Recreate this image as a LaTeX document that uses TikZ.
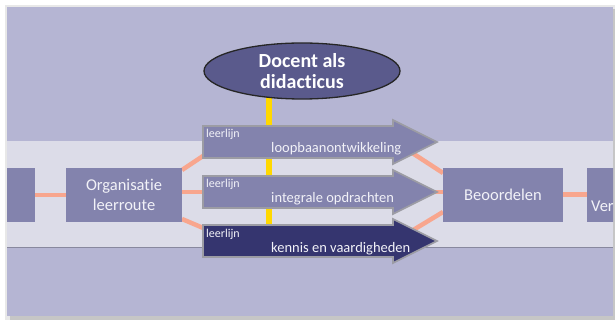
\documentclass[tikz,border=0pt]{standalone}
\usepackage{fontspec}
\setmainfont[Ligatures={NoCommon}]{Carlito}
\usetikzlibrary{shapes.geometric}
\definecolor{panelc}{HTML}{B5B5D3}
\definecolor{bandc}{HTML}{DCDCE8}
\definecolor{boxc}{HTML}{8383AD}
\definecolor{ellc}{HTML}{5A5A8C}
\definecolor{darkc}{HTML}{35356F}
\definecolor{salmonc}{HTML}{F8A68E}
\definecolor{yelc}{HTML}{FFD800}
\definecolor{randc}{HTML}{9C9CA4}
\definecolor{txtc}{HTML}{F2F2F8}
\tikzset{
  boxnode/.style={rectangle, fill=boxc, minimum height=54pt, inner sep=0pt,
    text=txtc, align=center, font=\fontsize{16.5}{20}\selectfont},
  conn/.style={draw=salmonc, line width=4.5pt},
  yel/.style={draw=yelc, line width=6pt},
  pijlrand/.style={draw=randc, line width=1.6pt, line join=miter},
  leer/.style={inner sep=0pt, anchor=base west, text=txtc, font=\fontsize{12}{14}\selectfont},
  pijltekst/.style={inner sep=0pt, anchor=base west, text=txtc, font=\fontsize{14.5}{17}\selectfont},
}
\newcommand\pijl[2]{%
  \draw[pijlrand, fill=#2] (203,{#1-16}) -- (393,{#1-16}) -- (393,{#1-22}) -- (437,#1)
    -- (393,{#1+22}) -- (393,{#1+16}) -- (203,{#1+16}) -- cycle;}
\begin{document}
\begin{tikzpicture}[x=1pt,y=-1pt]
\useasboundingbox (0,0) rectangle (615,320);
% shadow and panel
\fill[gray!18] (5,5) rectangle (615,319.5);
\fill[gray!45] (10,9) rectangle (615,319.5);
\fill[panelc] (7,7) rectangle (613,316);
\begin{scope}
\clip (7,7) rectangle (613,316);
\fill[bandc] (7,141) rectangle (613,247);
\draw[draw=panelc!75!black, line width=1.2pt] (7,247.5) -- (613,247.5);

% nodes
\node[boxnode, minimum width=28pt] (L) at (21,195) {};
\node[boxnode, minimum width=116pt] (O) at (124,195) {Organisatie\\leerroute};
\node[boxnode, minimum width=120pt] (B) at (503,195) {Beoordelen};
\node[boxnode, minimum width=60pt] (V) at (617,195) {};
\node[inner sep=0pt, anchor=base west, text=txtc, font=\fontsize{16.5}{20}\selectfont] (Vt) at (591,212) {Ver};

% connector anchor points
\coordinate (o1) at (182,170);
\coordinate (o2) at (182,192);
\coordinate (o3) at (182,219);
\coordinate (a1in) at (215,148);
\coordinate (a2in) at (215,192);
\coordinate (a3in) at (215,233);
\coordinate (a1out) at (400,145);
\coordinate (a2out) at (430,192);
\coordinate (a3out) at (400,238);
\coordinate (b1) at (443,173);
\coordinate (b2) at (443,192);
\coordinate (b3) at (443,212);

\draw[conn] (L.east) -- (O.west);
\draw[conn] (o1) -- (a1in);
\draw[conn] (o2) -- (a2in);
\draw[conn] (o3) -- (a3in);
\draw[conn] (a1out) -- (b1);
\draw[conn] (a2out) -- (b2);
\draw[conn] (a3out) -- (b3);
\draw[conn, line width=5pt] (B.east) -- (V.west);

% redraw boxes over connector ends
\node[boxnode, minimum width=116pt] at (O) {Organisatie\\leerroute};
\node[boxnode, minimum width=120pt] at (B) {Beoordelen};

% yellow line
\coordinate (y1) at (269,85);
\coordinate (y2) at (269,232);
\draw[yel] (y1) -- (y2);

% arrows
\pijl{142}{boxc}
\pijl{192}{boxc}
\pijl{241}{darkc}
\node[leer] (l1) at (206,138) {leerlijn};
\node[pijltekst] (t1) at (271,153) {loopbaanontwikkeling};
\node[leer] (l2) at (206,188) {leerlijn};
\node[pijltekst] (t2) at (271,203) {integrale opdrachten};
\node[leer] (l3) at (206,237) {leerlijn};
\node[pijltekst] (t3) at (271,252) {kennis en vaardigheden};

% ellipse
\node[ellipse, draw=black!85, line width=1.3pt, fill=ellc, minimum width=196pt,
  minimum height=56pt, inner sep=0pt, text=white, align=center,
  font=\bfseries\fontsize{20}{21}\selectfont] (E) at (302,71) {Docent als\\didacticus};
\end{scope}
\end{tikzpicture}
\end{document}
